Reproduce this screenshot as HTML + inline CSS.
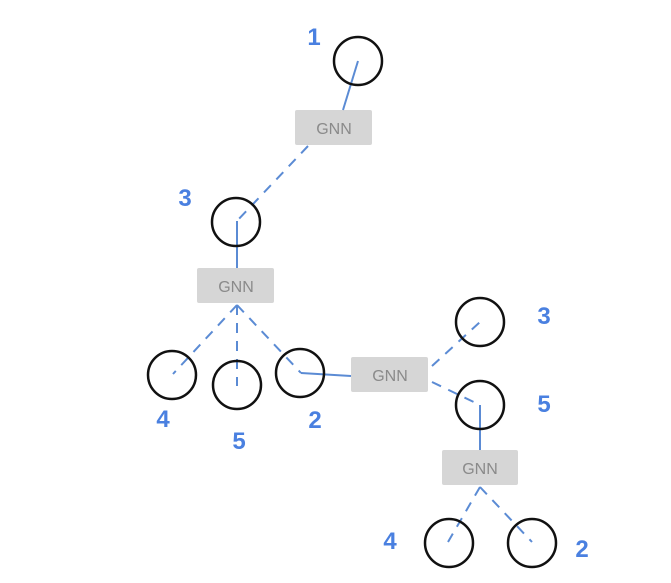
<!DOCTYPE html>
<html><head><style>
html,body{margin:0;padding:0;background:#fff;}
svg{display:block;}
</style></head><body>
<svg width="671" height="583" viewBox="0 0 671 583" xmlns="http://www.w3.org/2000/svg">
<g fill="#d6d6d6">
<rect x="295" y="110" width="77" height="35" rx="2"/>
<rect x="197" y="268" width="77" height="35" rx="2"/>
<rect x="351" y="357" width="77" height="35" rx="2"/>
<rect x="442" y="450" width="76" height="35" rx="2"/>
</g>
<g font-family="Liberation Sans, sans-serif" font-size="16" fill="#8a8a8a" text-anchor="middle">
<text x="334" y="134">GNN</text>
<text x="236" y="292">GNN</text>
<text x="390" y="381">GNN</text>
<text x="480" y="474">GNN</text>
</g>
<g stroke="#5b8bd4" stroke-width="2" fill="none">
<line x1="358" y1="61" x2="343" y2="110"/>
<polyline points="236,222 237,222 237,268"/>
<polyline points="301,373 351,376"/>
<line x1="480" y1="405" x2="480" y2="450"/>
</g>
<g stroke="#5b8bd4" stroke-width="2" fill="none" stroke-dasharray="10,8">
<line x1="308" y1="146" x2="236" y2="222"/>
<line x1="237" y1="305" x2="173" y2="374"/>
<line x1="237" y1="305" x2="237" y2="386"/>
<line x1="237" y1="305" x2="301" y2="373"/>
<line x1="432" y1="366" x2="480" y2="322"/>
<line x1="432" y1="382" x2="480" y2="405"/>
<line x1="480" y1="487" x2="448" y2="542"/>
<line x1="480" y1="487" x2="532" y2="542"/>
</g>
<g stroke="#111" stroke-width="2.5" fill="none">
<circle cx="358" cy="61" r="24"/>
<circle cx="236" cy="222" r="24"/>
<circle cx="172" cy="375" r="24"/>
<circle cx="237" cy="385" r="24"/>
<circle cx="300" cy="373" r="24"/>
<circle cx="480" cy="322" r="24"/>
<circle cx="480" cy="405" r="24"/>
<circle cx="449" cy="543" r="24"/>
<circle cx="532" cy="543" r="24"/>
</g>
<g font-family="Liberation Sans, sans-serif" font-size="24" font-weight="bold" fill="#4a80e0" text-anchor="middle">
<text x="314" y="45">1</text>
<text x="185" y="206">3</text>
<text x="163" y="427">4</text>
<text x="239" y="449">5</text>
<text x="315" y="428">2</text>
<text x="544" y="324">3</text>
<text x="544" y="412">5</text>
<text x="390" y="549">4</text>
<text x="582" y="557">2</text>
</g>
</svg>
</body></html>
